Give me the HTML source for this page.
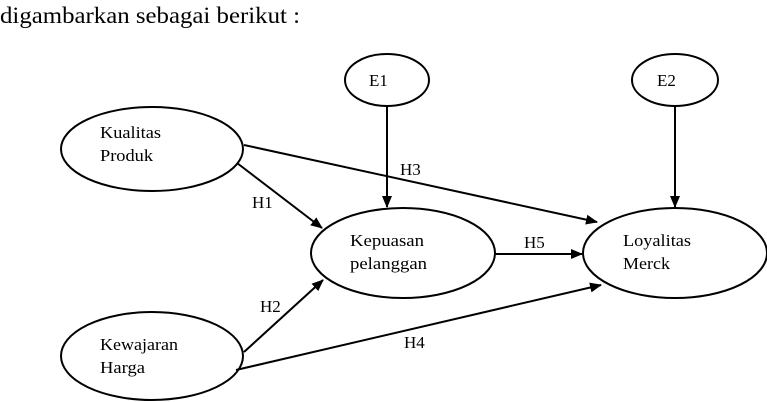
<!DOCTYPE html>
<html><head><meta charset="utf-8"><style>
html,body{margin:0;padding:0;background:#fff;}
svg{display:block;}
text{font-family:"Liberation Serif",serif;fill:#000;}
</style></head><body>
<svg width="767" height="402" viewBox="0 0 767 402" xmlns="http://www.w3.org/2000/svg">
<defs>
<marker id="a" markerWidth="12" markerHeight="10" refX="11" refY="5" orient="auto" markerUnits="userSpaceOnUse">
<path d="M0,0 L12,5 L0,10 Z" fill="#000"/>
</marker>
</defs>
<text x="0" y="23" font-size="23" textLength="300" lengthAdjust="spacingAndGlyphs">digambarkan sebagai berikut :</text>
<g fill="none" stroke="#000" stroke-width="2">
<ellipse cx="152" cy="149" rx="91" ry="42"/>
<ellipse cx="152" cy="356" rx="91" ry="44"/>
<ellipse cx="403" cy="253" rx="92" ry="45"/>
<ellipse cx="675" cy="253" rx="92" ry="45"/>
<ellipse cx="387" cy="80" rx="42" ry="26"/>
<ellipse cx="675" cy="80" rx="43" ry="26"/>
<line x1="387" y1="106" x2="387" y2="207" marker-end="url(#a)"/>
<line x1="675" y1="106" x2="675" y2="207" marker-end="url(#a)"/>
<line x1="237" y1="163" x2="322" y2="228" marker-end="url(#a)"/>
<line x1="244" y1="145" x2="597" y2="222" marker-end="url(#a)"/>
<line x1="496" y1="254" x2="582" y2="254" marker-end="url(#a)"/>
<line x1="244" y1="352" x2="323" y2="280" marker-end="url(#a)"/>
<line x1="236" y1="370" x2="601" y2="285" marker-end="url(#a)"/>
</g>
<g font-size="17">
<text x="100" y="138" textLength="61" lengthAdjust="spacingAndGlyphs">Kualitas</text>
<text x="100" y="161" textLength="53" lengthAdjust="spacingAndGlyphs">Produk</text>
<text x="350" y="246" textLength="74" lengthAdjust="spacingAndGlyphs">Kepuasan</text>
<text x="350" y="269" textLength="77" lengthAdjust="spacingAndGlyphs">pelanggan</text>
<text x="623" y="246" textLength="68" lengthAdjust="spacingAndGlyphs">Loyalitas</text>
<text x="623" y="269" textLength="47" lengthAdjust="spacingAndGlyphs">Merck</text>
<text x="100" y="350" textLength="78" lengthAdjust="spacingAndGlyphs">Kewajaran</text>
<text x="100" y="373" textLength="45" lengthAdjust="spacingAndGlyphs">Harga</text>
<text x="369" y="86">E1</text>
<text x="657" y="86">E2</text>
<text x="400" y="175">H3</text>
<text x="252" y="208">H1</text>
<text x="524" y="248">H5</text>
<text x="260" y="312">H2</text>
<text x="404" y="348">H4</text>
</g>
</svg>
</body></html>
